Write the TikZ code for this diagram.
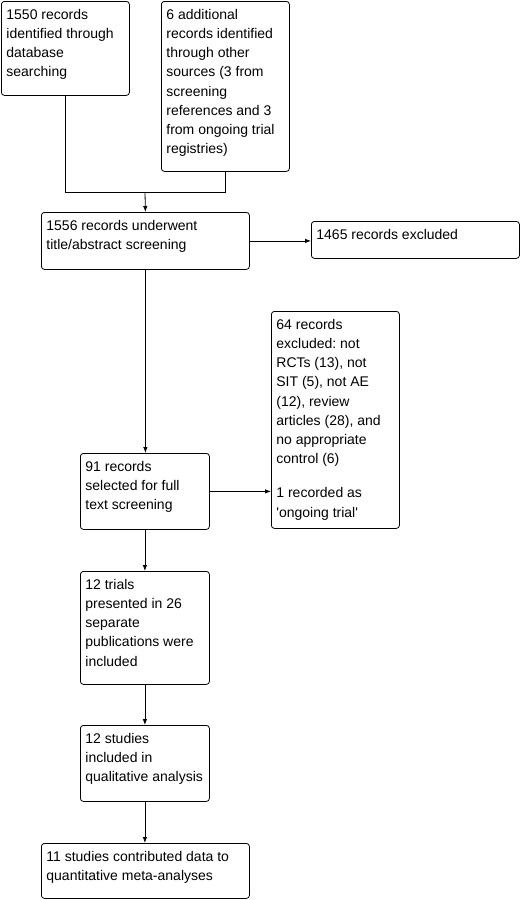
\documentclass[tikz,border=0pt]{standalone}
\usepackage{fontspec}
\setmainfont{Liberation Sans}
\usetikzlibrary{arrows.meta}
\frenchspacing
\newcommand\bx[3]{\parbox[c][#2][t]{#1}{\fontsize{14}{19.2}\selectfont\frenchspacing\strut #3}}
\begin{document}
\begin{tikzpicture}[x=1pt,y=-1pt,
  box/.style={draw=black, line width=0.8pt, rounded corners=3pt, anchor=north west,
    inner xsep=5pt, inner ysep=4.5pt, font=\fontsize{14}{19.2}\selectfont},
  conn/.style={draw=black, line width=0.8pt},
  arr/.style={conn, -{Latex[length=6pt,width=4.5pt]}}]
\fill[white] (0,0) rectangle (522,900);
\useasboundingbox (0,0) rectangle (522,900);
\node[box] (A) at (1,1) {\bx{118pt}{85pt}{1550 records\\identified through\\database\\searching}};
\node[box] (B) at (161,1) {\bx{118pt}{161pt}{6 additional\\records identified\\through other\\sources (3 from\\screening\\references and 3\\from ongoing trial\\registries)}};
\node[box] (C) at (41,212) {\bx{198pt}{48pt}{1556 records underwent\\title/abstract screening}};
\node[box] (D) at (311,221) {\bx{198pt}{28pt}{1465 records excluded}};
\node[box] (E) at (271,311) {\bx{118pt}{208pt}{64 records\\excluded: not\\RCTs (13), not\\SIT (5), not AE\\(12), review\\articles (28), and\\no appropriate\\control (6)\\[15pt]1 recorded as\\\textquotesingle ongoing trial\textquotesingle}};
\node[box] (F) at (80,453) {\bx{119pt}{67pt}{91 records\\selected for full\\text screening}};
\node[box] (G) at (80,571) {\bx{119pt}{104pt}{12 trials\\presented in 26\\separate\\publications were\\included}};
\node[box] (H) at (80,725) {\bx{119pt}{67pt}{12 studies\\included in\\qualitative analysis}};
\node[box] (I) at (41,843) {\bx{198pt}{46pt}{11 studies contributed data to\\quantitative meta-analyses}};
\coordinate (j) at (145,192);
\draw[conn] (A.south) |- (j);
\draw[conn] (B.south) |- (j);
\draw[arr] (j) -- (C.north);
\draw[arr] (C.east) -- (C.east -| D.west);
\draw[arr] (C.south) -- (C.south |- F.north);
\draw[arr] (F.east) -- (F.east -| E.west);
\draw[arr] (F.south) -- (G.north);
\draw[arr] (G.south) -- (H.north);
\draw[arr] (H.south) -- (H.south |- I.north);
\end{tikzpicture}
\end{document}
